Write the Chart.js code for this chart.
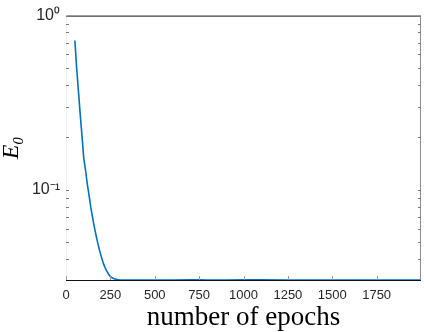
<!DOCTYPE html>
<html>
<head>
<meta charset="utf-8">
<script src="https://cdn.jsdelivr.net/npm/chart.js@4.4.1/dist/chart.umd.min.js"></script>
<style>
  html, body { margin: 0; padding: 0; background: #ffffff; }
  #wrap { width: 424px; height: 332px; }
</style>
</head>
<body>
<div id="wrap"><canvas id="c" width="424" height="332"></canvas></div>
<script>
// ---- data ----
const epochs = [50, 60, 70, 80, 90, 100, 110, 120, 130, 140, 150, 160, 170, 180, 190, 200, 210, 220, 230, 240, 250, 270, 300, 400, 500, 600, 700, 750, 800, 900, 1000, 1100, 1250, 1500, 1750, 2000];
const e0Values = [0.72, 0.50, 0.37, 0.272, 0.204, 0.152, 0.130, 0.108, 0.093, 0.079, 0.069, 0.061, 0.0545, 0.049, 0.0445, 0.041, 0.038, 0.0358, 0.0342, 0.0328, 0.0318, 0.0309, 0.0304, 0.0304, 0.0304, 0.0304, 0.0305, 0.0305, 0.0304, 0.0304, 0.0305, 0.0305, 0.0304, 0.0304, 0.0304, 0.0304];
const xTickValues = [0, 250, 500, 750, 1000, 1250, 1500, 1750];
const yMajorTicks = [0.1, 1];
const yMajorLabels = ['10\u207B\u00B9', '10\u2070'];
const yMinorTicks = [0.04, 0.05, 0.06, 0.07, 0.08, 0.09, 0.2, 0.3, 0.4, 0.5, 0.6, 0.7, 0.8, 0.9];
const xRange = [0, 2000];
const yRange = [0.0304, 1];
const xTitle = 'number of epochs';
const yTitle = 'E\u2080';

const axisColor = '#262626';

// inward MATLAB-style tick marks and box
const boxPlugin = {
  id: 'box',
  afterDatasetsDraw(chart) {
    const { ctx, chartArea: a, scales } = chart;
    const x = scales.x, y = scales.y;
    ctx.save();
    ctx.lineWidth = 1;
    ctx.strokeStyle = '#111111';
    ctx.beginPath();
    ctx.moveTo(a.left, a.top + 0.5); ctx.lineTo(a.right, a.top + 0.5);
    ctx.moveTo(a.left, a.bottom + 0.5); ctx.lineTo(a.right, a.bottom + 0.5);
    ctx.stroke();
    ctx.strokeStyle = '#8c8c8c';
    ctx.beginPath();
    ctx.moveTo(a.right - 0.5, a.top); ctx.lineTo(a.right - 0.5, a.bottom);
    ctx.stroke();
    ctx.strokeStyle = '#eeeeee';
    ctx.beginPath();
    ctx.moveTo(a.left + 0.5, a.top); ctx.lineTo(a.left + 0.5, a.bottom);
    ctx.stroke();
    ctx.strokeStyle = '#9a9a9a';
    ctx.beginPath();
    xTickValues.forEach(v => {
      const px = Math.round(x.getPixelForValue(v)) + 0.5;
      ctx.moveTo(px, a.bottom); ctx.lineTo(px, a.bottom - 4);
    });
    ctx.stroke();
    ctx.strokeStyle = '#7a7a7a';
    ctx.beginPath();
    yMajorTicks.concat(yMinorTicks).forEach(v => {
      const py = Math.round(y.getPixelForValue(v)) + 0.5;
      ctx.moveTo(a.left, py); ctx.lineTo(a.left + 3, py);
      ctx.moveTo(a.right, py); ctx.lineTo(a.right - 3, py);
    });
    ctx.stroke();
    ctx.restore();
  }
};

new Chart(document.getElementById('c'), {
  type: 'line',
  data: {
    datasets: [{
      data: epochs.map((e, i) => ({ x: e, y: e0Values[i] })),
      borderColor: '#0072BD',
      borderWidth: 1.6,
      pointRadius: 0,
      tension: 0,
      fill: false
    }]
  },
  options: {
    responsive: false,
    animation: false,
    devicePixelRatio: 1,
    layout: { padding: { top: 10, right: 3, left: 0, bottom: 0 } },
    plugins: { legend: { display: false }, tooltip: { enabled: false } },
    scales: {
      x: {
        type: 'linear',
        min: xRange[0], max: xRange[1],
        afterBuildTicks: s => { s.ticks = xTickValues.map(v => ({ value: v })); },
        afterFit: s => { s.height = 52; },
        grid: { display: false, drawTicks: false },
        border: { display: false },
        ticks: {
          padding: 8,
          color: axisColor,
          maxRotation: 0,
          autoSkip: false,
          font: { family: 'Liberation Sans', size: 13 },
          callback: v => String(v)
        },
        title: {
          display: true,
          text: xTitle,
          color: '#000',
          font: { family: 'Liberation Serif', size: 27, lineHeight: 1 },
          padding: { top: 0, bottom: 1 }
        }
      },
      y: {
        type: 'logarithmic',
        min: yRange[0], max: yRange[1],
        afterBuildTicks: s => { s.ticks = yMajorTicks.map(v => ({ value: v })); },
        afterFit: s => { s.width = 66; },
        grid: { display: false, drawTicks: false },
        border: { display: false },
        ticks: {
          padding: 6,
          color: axisColor,
          autoSkip: false,
          font: { family: 'Liberation Sans', size: 16 },
          callback: (v) => { const i = yMajorTicks.indexOf(v); return i >= 0 ? yMajorLabels[i] : ''; }
        },
        title: {
          display: true,
          text: yTitle,
          color: '#000',
          font: { family: 'Liberation Serif', size: 24, style: 'italic', lineHeight: 1 },
          padding: { top: 0, bottom: 0 }
        }
      }
    }
  },
  plugins: [boxPlugin]
});
</script>
</body>
</html>
